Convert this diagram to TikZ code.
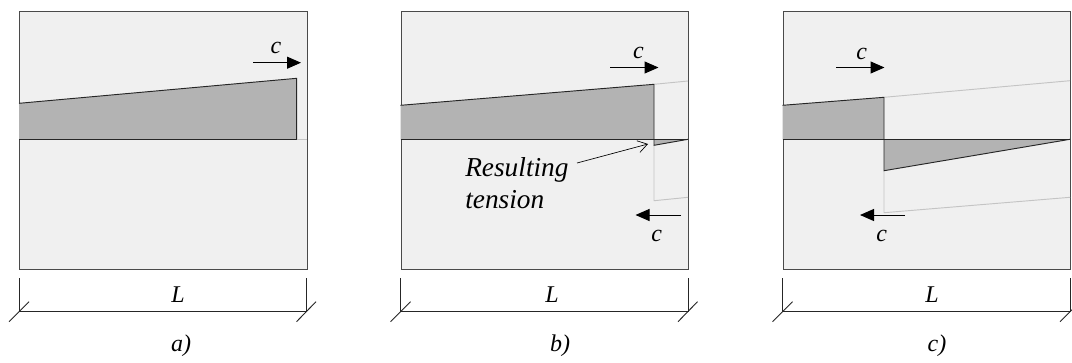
\documentclass[tikz,border=0pt]{standalone}
\usepackage{fontspec}
\setmainfont{Liberation Serif}[ItalicFont={Liberation Serif Italic}]
\newfontfamily\labfont{Liberation Serif Italic}
\usetikzlibrary{arrows.meta}
\definecolor{boxfill}{HTML}{F0F0F0}
\definecolor{boxline}{HTML}{4A4A4A}
\definecolor{shade}{HTML}{B3B3B3}
\definecolor{faint}{HTML}{C4C4C4}
\tikzset{
  panel/.style={fill=boxfill, draw=boxline, line width=0.8pt},
  stressfill/.style={fill=shade, draw=none},
  stressline/.style={draw=black!85, line width=0.7pt},
  faintline/.style={draw=faint, line width=0.7pt},
  carrow/.style={-{Triangle[length=10.5pt,width=9pt]}, line width=0.75pt},
  dimline/.style={draw=black!85, line width=0.7pt},
  lbl/.style={font=\labfont\fontsize{18}{24}\selectfont, inner sep=0pt},
  tarrow/.style={-{Straight Barb[length=7pt,width=9pt]}, line width=0.5pt}
}
\begin{document}
\begin{tikzpicture}[x=0.75pt,y=-0.75pt]
\useasboundingbox (0,0) rectangle (1072,362);

% ================= panel a =================
\node[panel, minimum width=287.5*0.75pt, minimum height=258*0.75pt, inner sep=0pt, anchor=north west] (boxa) at (19,10.7) {};
\fill[stressfill] (19,103.3) -- (296.7,78.3) -- (296.7,139.3) -- (19,139.3) -- cycle;
\draw[stressline] (19,103.3) -- (296.7,78.3) -- (296.7,139.3);
\draw[stressline] (19,139.3) -- (296.7,139.3);
\draw[faintline] (296.7,139.3) -- (306.5,139.3);
\coordinate (a1) at (253,62.7); \coordinate (a2) at (301,62.7);
\draw[carrow] (a1) -- (a2);
\node[lbl, anchor=base] (ca) at (276,53) {c};
% dimension a
\coordinate (da1) at (19,311.7); \coordinate (da2) at (306.5,311.7);
\draw[dimline] (19,278) -- (da1) -- (da2) -- (306.5,278);
\draw[dimline] (9,321.7) -- (29,301.7);
\draw[dimline] (296.5,321.7) -- (316,301.7);
\node[lbl, anchor=base] (La) at (178,302) {L};
\node[lbl, anchor=base] (tita) at (181,351) {a)};

% ================= panel b =================
\node[panel, minimum width=287.5*0.75pt, minimum height=258*0.75pt, inner sep=0pt, anchor=north west] (boxb) at (400.5,10.7) {};
\fill[stressfill] (400.5,105.3) -- (654,84.3) -- (654,139.3) -- (400.5,139.3) -- cycle;
\fill[stressfill] (654,139.3) -- (654,145.3) -- (688,139.3) -- cycle;
\draw[faintline] (654,84.3) -- (688,81);
\draw[faintline] (654,145.3) -- (654,200.7) -- (688,197.3);
\draw[stressline] (400.5,105.3) -- (654,84.3) -- (654,145.3) -- (688,139.3);
\draw[stressline] (400.5,139.3) -- (688,139.3);
\coordinate (b1) at (610,67.5); \coordinate (b2) at (658.5,67.5);
\draw[carrow] (b1) -- (b2);
\node[lbl, anchor=base] (cb1) at (638.5,58) {c};
\coordinate (b3) at (681,215); \coordinate (b4) at (635.5,215);
\draw[carrow] (b3) -- (b4);
\node[lbl, anchor=base] (cb2) at (656.7,241) {c};
\node[lbl, anchor=base west, align=left, font=\labfont\fontsize{20.5}{24}\selectfont] (res) at (465,208) {Resulting\\tension};
\coordinate (rs) at (577,163); \coordinate (re) at (648,144);
\draw[tarrow] (rs) -- (re);
% dimension b
\coordinate (db1) at (400.5,311.7); \coordinate (db2) at (688,311.7);
\draw[dimline] (400.5,278) -- (db1) -- (db2) -- (688,278);
\draw[dimline] (390.5,321.7) -- (410.5,301.7);
\draw[dimline] (678,321.7) -- (697.5,301.7);
\node[lbl, anchor=base] (Lb) at (552,302) {L};
\node[lbl, anchor=base] (titb) at (560,351) {b)};

% ================= panel c =================
\node[panel, minimum width=287.5*0.75pt, minimum height=258*0.75pt, inner sep=0pt, anchor=north west] (boxc) at (782.5,10.7) {};
\fill[stressfill] (782.5,105.3) -- (884,97.3) -- (884,139.3) -- (782.5,139.3) -- cycle;
\fill[stressfill] (884,139.3) -- (884,170.7) -- (1070,139.3) -- cycle;
\draw[faintline] (884,97.3) -- (1070,80.7);
\draw[faintline] (884,170.7) -- (884,212.7) -- (1070,197.3);
\draw[stressline] (782.5,105.3) -- (884,97.3) -- (884,170.7) -- (1070,139.3);
\draw[stressline] (782.5,139.3) -- (1070,139.3);
\coordinate (c1) at (836,67.5); \coordinate (c2) at (884.5,67.5);
\draw[carrow] (c1) -- (c2);
\node[lbl, anchor=base] (cc1) at (861.7,59) {c};
\coordinate (c3) at (905,215); \coordinate (c4) at (860,215);
\draw[carrow] (c3) -- (c4);
\node[lbl, anchor=base] (cc2) at (881.7,241) {c};
% dimension c
\coordinate (dc1) at (782.5,311.7); \coordinate (dc2) at (1070,311.7);
\draw[dimline] (782.5,278) -- (dc1) -- (dc2) -- (1070,278);
\draw[dimline] (772.5,321.7) -- (792.5,301.7);
\draw[dimline] (1060,321.7) -- (1072,309.7);
\node[lbl, anchor=base] (Lc) at (932,302) {L};
\node[lbl, anchor=base] (titc) at (937,351) {c)};
\end{tikzpicture}
\end{document}
